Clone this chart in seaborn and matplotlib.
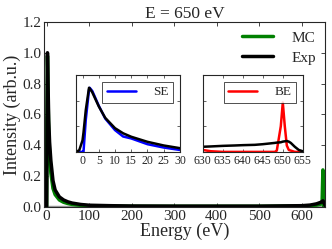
import pandas as pd
import seaborn as sns
import matplotlib.pyplot as plt

# main spectrum, E = 650 eV
energy = [0, 1, 2, 3, 4, 5, 7, 10, 15, 20, 30, 40, 50, 60, 80, 100, 150, 200,
          300, 400, 500, 600, 620, 635, 645, 648, 650, 652, 655]
exp_int = [0.0, 0.5, 1.0, 0.85, 0.7, 0.56, 0.42, 0.3, 0.17, 0.11, 0.065, 0.045,
           0.033, 0.025, 0.016, 0.011, 0.008, 0.006, 0.005, 0.005, 0.005, 0.008,
           0.012, 0.02, 0.03, 0.035, 0.04, 0.03, 0.01]
mc_int = [0.0, 0.6, 0.98, 0.8, 0.62, 0.48, 0.34, 0.22, 0.12, 0.08, 0.045, 0.03,
          0.022, 0.016, 0.01, 0.007, 0.005, 0.004, 0.004, 0.004, 0.004, 0.006,
          0.008, 0.012, 0.018, 0.02, 0.24, 0.0, 0.0]
base_x = [-2, -2, 650]
base_y = [0.58, 0.0, 0.0]

# inset: secondary electrons
se_x = [-2, -1, 0, 0.3, 1, 2, 2.2, 3, 5, 7, 10, 12.5, 15, 20, 25, 30]
se_exp = [0.0, 0.026, 0.18, 0.3, 0.65, 1.0, 0.99, 0.93, 0.71, 0.53, 0.37, 0.29, 0.236, 0.157, 0.1, 0.058]
se_mc = [0.0, 0.0, 0.0, 0.0, 0.5, 0.97, 1.0, 0.95, 0.72, 0.52, 0.34, 0.24, 0.21, 0.12, 0.068, 0.03]

# inset: backscattered electrons
be_x = [630, 632, 635, 638, 640, 643, 645, 648, 648.5, 649.5, 650, 650.5, 651, 651.5, 652, 653, 654, 655]
be_exp = [0.08, 0.085, 0.094, 0.1, 0.105, 0.11, 0.12, 0.14, 0.145, 0.15, 0.16, 0.165, 0.17, 0.16, 0.14, 0.08, 0.03, 0.01]
be_mc = [0.03, 0.01, 0.0, 0.0, 0.0, 0.0, 0.0, 0.0, 0.02, 0.4, 0.77, 0.4, 0.1, 0.03, 0.02, 0.0, 0.0, 0.0]

sns.set_theme(style="ticks", rc={
    "xtick.direction": "in", "ytick.direction": "in",
    "xtick.top": True, "ytick.right": True,
    "axes.linewidth": 0.8,
})
plt.rcParams["font.family"] = ["Liberation Serif", "DejaVu Serif"]

fig = plt.figure(figsize=(3.32, 2.49), dpi=100)
ax = fig.add_axes([0.134, 0.169, 0.845, 0.743])

sns.lineplot(x=base_x, y=base_y, color="0.6", lw=2.5, ax=ax, sort=False, estimator=None)
sns.lineplot(x=energy, y=mc_int, color="green", lw=2.5, ax=ax, label="MC")
sns.lineplot(x=energy, y=exp_int, color="black", lw=2.5, ax=ax, label="Exp")
ax.set_xlim(-5, 655)
ax.set_ylim(0, 1.2)
ax.set_xticks([0, 100, 200, 300, 400, 500, 600])
ax.set_yticks([0.0, 0.2, 0.4, 0.6, 0.8, 1.0, 1.2])
ax.set_yticklabels(["0.0", "0.2", "0.4", "0.6", "0.8", "1.0", "1.2"])
ax.tick_params(labelsize=11, length=3, width=0.6, pad=2)
ax.set_xlabel("Energy (eV)", fontsize=13, labelpad=0)
ax.set_ylabel("Intensity (arb.u.)", fontsize=13, labelpad=1)
ax.set_title("E = 650 eV", fontsize=12.5, pad=3)
ax.legend(loc="upper right", frameon=False, fontsize=11, handlelength=2,
          handletextpad=1.2, labelspacing=0.4, borderaxespad=0.2)

# inset SE
ax1 = fig.add_axes([0.229, 0.390, 0.313, 0.309])
sns.lineplot(x=se_x, y=se_mc, color="blue", lw=1.8, ax=ax1, label="SE")
sns.lineplot(x=se_x, y=se_exp, color="black", lw=1.8, ax=ax1)
ax1.set_xlim(-2, 30)
ax1.set_ylim(0, 1.2)
ax1.set_xticks([0, 5, 10, 15, 20, 25, 30])
ax1.set_yticks([0, 0.4, 0.8, 1.2])
ax1.set_yticklabels([])
ax1.tick_params(labelsize=8.5, length=2, width=0.5, pad=2)

# inset BE
ax2 = fig.add_axes([0.611, 0.390, 0.301, 0.309])
sns.lineplot(x=be_x, y=be_mc, color="red", lw=1.8, ax=ax2, label="BE")
sns.lineplot(x=be_x, y=be_exp, color="black", lw=1.8, ax=ax2)
ax2.set_xlim(630, 655)
ax2.set_ylim(0, 1.2)
ax2.set_xticks([630, 635, 640, 645, 650, 655])
ax2.set_yticks([0, 0.4, 0.8, 1.2])
ax2.set_yticklabels([])
ax2.tick_params(labelsize=8.5, length=2, width=0.5, pad=2)

for a in (ax1, ax2):
    leg = a.legend(loc="upper right", fontsize=9.5, fancybox=False, handlelength=2.2,
                   handletextpad=1.3, borderpad=0.35, borderaxespad=0.5)
    leg.get_frame().set_edgecolor("black")
    leg.get_frame().set_linewidth(0.6)

fig.savefig("out.png", dpi=100)
